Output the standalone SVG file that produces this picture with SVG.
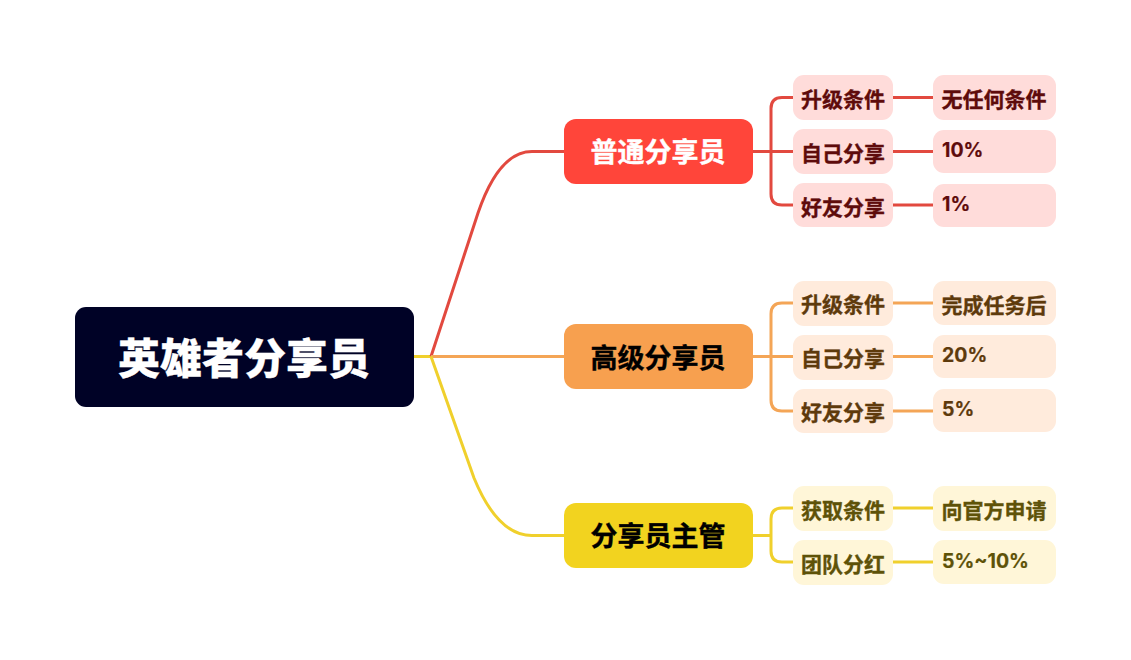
<svg xmlns="http://www.w3.org/2000/svg" width="1131" height="660" viewBox="0 0 1131 660">
<style>
text{font-family:Inter,"Noto Sans CJK SC",sans-serif;font-weight:700;text-anchor:middle}
.root{font-size:42px;fill:#fff;font-weight:900;stroke:#fff;stroke-width:.3}
.main{font-size:27px;stroke-width:.4}
.sub{font-size:21px;stroke-width:.35}
.val{font-size:19.500px;text-anchor:start;stroke-width:.2}
.c{fill:none;stroke-width:3;stroke-linecap:butt}
.r{stroke:#e2493f}.o{stroke:#f4a556}.y{stroke:#f0d02c}
.rt{fill:#5e0b0b;stroke:#5e0b0b}.ot{fill:#5e3a0c;stroke:#5e3a0c}.yt{fill:#5e5208;stroke:#5e5208}
.rb{fill:#ffdcda}.ob{fill:#ffebdc}.yb{fill:#fff6d8}
</style>
<rect width="1131" height="660" fill="#fff"/>
<g id="connectors">
<path class="c y" d="M413 356.500H431"/>
<path class="c r" d="M431 356.500L478 213C491 175 508 151.500 532 151.500H564"/>
<path class="c o" d="M431 356.500H564"/>
<path class="c y" d="M431 356.500L474 478C488 512 506 535.500 532 535.500H564"/>
<path class="c r" d="M752 151.500H793M793 97.500H782Q771 97.500 771 108.500V194Q771 205 782 205H793"/>
<path class="c r" d="M893 97.500H933M893 151.500H933M893 205H933"/>
<path class="c o" d="M752 356.500H793M793 303H782Q771 303 771 314V400Q771 411 782 411H793"/>
<path class="c o" d="M893 303H933M893 356.500H933M893 411H933"/>
<path class="c y" d="M752 535.500H771M793 508H782Q771 508 771 519V551Q771 562 782 562H793"/>
<path class="c y" d="M893 508H933M893 562H933"/>
</g>
<g id="root"><rect x="75" y="307" width="339" height="100" rx="11" fill="#000226"/><text class="root" x="244" y="374">英雄者分享员</text></g>
<g id="n1"><rect x="564" y="119" width="189" height="65" rx="12" fill="#ff453a"/><text class="main" x="658" y="162" fill="#fff" stroke="#fff">普通分享员</text></g>
<g id="n2"><rect x="564" y="324" width="189" height="65" rx="12" fill="#f7a04f"/><text class="main" x="658" y="368" fill="#000" stroke="#000">高级分享员</text></g>
<g id="n3"><rect x="564" y="503" width="189" height="65" rx="12" fill="#f2d31f"/><text class="main" x="658" y="546" fill="#000" stroke="#000">分享员主管</text></g>
<g id="n1a"><rect class="rb" x="793" y="75" width="100" height="45" rx="11"/><text class="sub rt" x="843" y="107">升级条件</text></g>
<g id="n1b"><rect class="rb" x="793" y="129" width="100" height="45" rx="11"/><text class="sub rt" x="843" y="161">自己分享</text></g>
<g id="n1c"><rect class="rb" x="793" y="183" width="100" height="44" rx="11"/><text class="sub rt" x="843" y="215">好友分享</text></g>
<g id="n1a1"><rect class="rb" x="933" y="75" width="123" height="45" rx="11"/><text class="sub rt" x="994" y="107">无任何条件</text></g>
<g id="n1b1"><rect class="rb" x="933" y="130" width="123" height="43" rx="11"/><text class="val rt" x="942" y="157">10%</text></g>
<g id="n1c1"><rect class="rb" x="933" y="184" width="123" height="43" rx="11"/><text class="val rt" x="942" y="211">1%</text></g>
<g id="n2a"><rect class="ob" x="793" y="281" width="100" height="45" rx="11"/><text class="sub ot" x="843" y="312">升级条件</text></g>
<g id="n2b"><rect class="ob" x="793" y="335" width="100" height="45" rx="11"/><text class="sub ot" x="843" y="366">自己分享</text></g>
<g id="n2c"><rect class="ob" x="793" y="389" width="100" height="44" rx="11"/><text class="sub ot" x="843" y="420">好友分享</text></g>
<g id="n2a1"><rect class="ob" x="933" y="281" width="123" height="44" rx="11"/><text class="sub ot" x="994" y="313">完成任务后</text></g>
<g id="n2b1"><rect class="ob" x="933" y="335" width="123" height="43" rx="11"/><text class="val ot" x="942" y="362">20%</text></g>
<g id="n2c1"><rect class="ob" x="933" y="389" width="123" height="43" rx="11"/><text class="val ot" x="942" y="416">5%</text></g>
<g id="n3a"><rect class="yb" x="793" y="486" width="100" height="45" rx="11"/><text class="sub yt" x="843" y="518">获取条件</text></g>
<g id="n3b"><rect class="yb" x="793" y="540" width="100" height="45" rx="11"/><text class="sub yt" x="843" y="572">团队分红</text></g>
<g id="n3a1"><rect class="yb" x="933" y="486" width="123" height="45" rx="11"/><text class="sub yt" x="994" y="518">向官方申请</text></g>
<g id="n3b1"><rect class="yb" x="933" y="540" width="123" height="44" rx="11"/><text class="val yt" x="942" y="568">5%~10%</text></g>
</svg>
